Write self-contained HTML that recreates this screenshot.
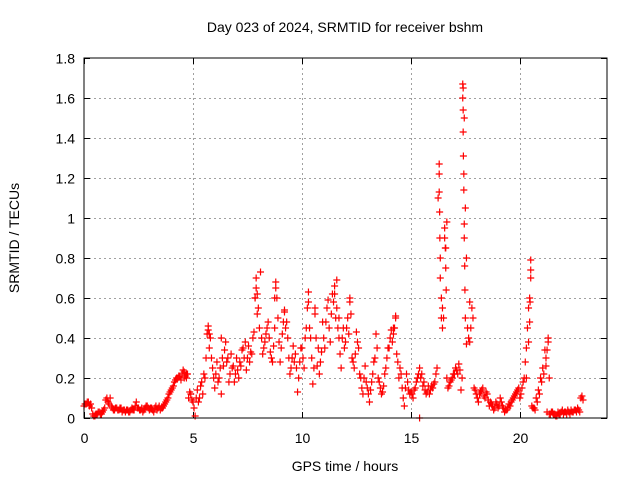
<!DOCTYPE html>
<html><head><meta charset="utf-8"><style>
body{margin:0;background:#fff}
svg text{font-family:"Liberation Sans",sans-serif;font-size:14px;fill:#000}
</style></head><body>
<svg id="chart" width="640" height="480" viewBox="0 0 640 480" xmlns="http://www.w3.org/2000/svg">
<rect width="640" height="480" fill="#fff"/>
<text x="345" y="32" text-anchor="middle">Day 023 of 2024, SRMTID for receiver bshm</text>
<text transform="translate(19,238) rotate(-90)" text-anchor="middle">SRMTID / TECUs</text>
<text x="345" y="471" text-anchor="middle">GPS time / hours</text>
<g id="grid"></g><g id="ticks"></g><g id="marks"></g>
<rect x="84" y="58" width="523" height="360" fill="none" stroke="#000" stroke-width="1"/>
</svg>
<script>
const xTicks=[0,5,10,15,20];
const yTicks=[0,0.2,0.4,0.6,0.8,1,1.2,1.4,1.6,1.8];
const yTickLabels=["0","0.2","0.4","0.6","0.8","1","1.2","1.4","1.6","1.8"];
const srmtid=[
.06,.07,.08,.07,.02,.01,.02,.03,.02,.04,
.09,.08,.10,.05,.04,.05,.04,.05,.04,.03,
.04,.03,.05,.04,.08,.05,.04,.03,.05,.06,
.04,.05,.03,.06,.05,.04,.05,.07,.09,.12,
.14,.16,.19,.20,.21,.22,.23,.20,.10,.12,
.08,.01,.14,.10,.18,.22,.30,.44,.40,.25,
.15,.28,.20,.12,.26,.38,.30,.22,.25,.18,
.30,.20,.26,.35,.38,.30,.28,.32,.43,.70,
.55,.73,.32,.38,.45,.40,.30,.36,.65,.50,
.28,.42,.53,.48,.30,.25,.36,.32,.13,.28,
.35,.25,.45,.63,.40,.17,.52,.26,.22,.33,
.40,.48,.59,.38,.62,.66,.55,.40,.25,.45,
.38,.50,.58,.30,.25,.43,.35,.20,.12,.26,
.15,.08,.18,.28,.42,.20,.15,.13,.22,.30,
.35,.44,.42,.50,.28,.25,.15,.06,.22,.14,
.13,.10,.15,.20,.25,.22,.18,.12,.16,.14,
.15,.18,.25,1.22,.60,.50,.85,.15,.18,.20,
.22,.24,.27,.14,1.65,1.05,.45,.38,.55,.15,
.12,.08,.13,.15,.10,.12,.06,.07,.04,.08,
.05,.10,.06,.03,.04,.07,.08,.10,.12,.14,
.10,.15,.20,.35,.55,.70,.05,.04,.08,.12,
.18,.22,.30,.38,.02,.03,.02,.01,.02,.03,
.02,.03,.04,.02,.03,.04,.03,.04,.10,.09];
const srmtidMid=[
.07,.08,.06,.05,.01,.02,.03,.02,.03,.05,
.10,.07,.06,.04,.05,.04,.05,.03,.04,.04,
.03,.04,.04,.06,.05,.04,.05,.04,.06,.05,
.05,.04,.05,.04,.06,.05,.06,.08,.10,.13,
.15,.18,.20,.21,.19,.24,.21,.22,.13,.09,
.05,.10,.08,.16,.12,.20,.42,.35,.30,.20,
.22,.18,.25,.30,.34,.28,.18,.32,.26,.22,
.24,.28,.34,.30,.24,.36,.33,.40,.60,.62,
.45,.40,.35,.42,.48,.33,.28,.45,.60,.38,
.35,.48,.45,.40,.22,.30,.28,.25,.20,.35,
.30,.40,.55,.45,.30,.25,.40,.35,.28,.48,
.35,.55,.45,.52,.58,.50,.45,.32,.40,.35,
.45,.42,.52,.28,.32,.38,.22,.15,.20,.18,
.12,.14,.22,.30,.35,.18,.12,.16,.25,.35,
.40,.38,.45,.32,.20,.22,.10,.15,.18,.12,
.12,.14,.18,.22,.20,.16,.14,.13,.12,.16,
.17,.22,1.10,.70,.55,.90,.20,.16,.19,.22,
.25,.22,.24,.20,1.50,.80,.40,.45,.50,.14,
.10,.12,.14,.11,.13,.09,.08,.06,.05,.07,
.06,.08,.05,.04,.05,.06,.09,.11,.13,.15,
.12,.18,.28,.45,.60,.06,.05,.10,.14,.20,
.25,.34,.03,.02,.03,.02,.01,.03,.02,.04,
.03,.02,.03,.04,.03,.04,.05,.03,.11];
const extraHours=[16.3,16.3,16.32,16.33,16.35,16.4,16.45,16.55,16.58,16.6,16.62,16.65,17.38,17.38,17.4,17.4,17.41,17.43,17.43,17.45,17.45,17.47,17.48,17.5,17.55,17.7,20.45,20.47,20.5,20.5,20.4,20.3,21.25,21.2,21.3,7.85,7.9,7.95,8.8,8.75,10.3,11.6,11.5,12.2,14.3,14.2,5.7,6.3,9.2,10.6,15.4,4.6,4.7,5.75,11.7,20.65,21.35];
const extraValues=[1.27,1.13,1.03,0.90,0.80,0.50,0.45,0.95,0.85,0.75,0.64,0.98,1.67,1.60,1.54,1.43,1.31,1.22,1.14,0.97,0.90,0.76,0.64,0.50,0.37,0.58,0.48,0.58,0.74,0.79,0.38,0.20,0.34,0.26,0.40,0.60,0.65,0.52,0.68,0.60,0.58,0.69,0.62,0.60,0.51,0.45,0.46,0.40,0.54,0.55,0.00,0.20,0.22,0.42,0.50,0.05,0.20];
const NS="http://www.w3.org/2000/svg";
const X0=84,X1=607,Y0=418,Y1=58;
function xs(t){return X0+(t/24)*(X1-X0);}
function ys(v){return Y0-(v/1.8)*(Y0-Y1);}
const grid=document.getElementById('grid'),ticks=document.getElementById('ticks'),marks=document.getElementById('marks');
function line(g,x1,y1,x2,y2,st,dash){const l=document.createElementNS(NS,'line');l.setAttribute('x1',x1);l.setAttribute('y1',y1);l.setAttribute('x2',x2);l.setAttribute('y2',y2);l.setAttribute('stroke',st);if(dash)l.setAttribute('stroke-dasharray',dash);g.appendChild(l);return l;}
yTicks.forEach((v,i)=>{const y=Math.round(ys(v))+0.5;
 if(v>0&&v<1.8){const gl=line(grid,X0,y,X1,y,'#a0a0a0','2,3');
 
 }
 line(ticks,X0,y,X0+6,y,'#000');line(ticks,X1-6,y,X1,y,'#000');
 const t=document.createElementNS(NS,'text');t.setAttribute('x',X0-9);t.setAttribute('y',y+5);t.setAttribute('text-anchor','end');t.textContent=yTickLabels[i];
 
 
 ticks.appendChild(t);});
xTicks.forEach(v=>{const x=Math.round(xs(v))+0.5;
 if(v>0){const gl=line(grid,x,Y1,x,Y0,'#a0a0a0','2,3');
 
 }
 line(ticks,x,Y0,x,Y0-6,'#000');line(ticks,x,Y1,x,Y1+6,'#000');
 const t=document.createElementNS(NS,'text');t.setAttribute('x',x);t.setAttribute('y',Y0+25);t.setAttribute('text-anchor','middle');t.textContent=String(v);
 
 
 ticks.appendChild(t);});
function plus(t,v){const x=xs(t),y=ys(v);const p=document.createElementNS(NS,'path');
 p.setAttribute('d',`M${x-3.5},${y}h7M${x},${y-3.5}v7`);p.setAttribute('stroke','#ff0000');p.setAttribute('stroke-width','1.2');p.setAttribute('fill','none');
 
 
 marks.appendChild(p);}
srmtid.forEach((v,i)=>plus(i*0.1,v));
srmtidMid.forEach((v,i)=>plus(0.05+i*0.1,v));
extraHours.forEach((t,i)=>plus(t,extraValues[i]));
</script>
</body></html>
